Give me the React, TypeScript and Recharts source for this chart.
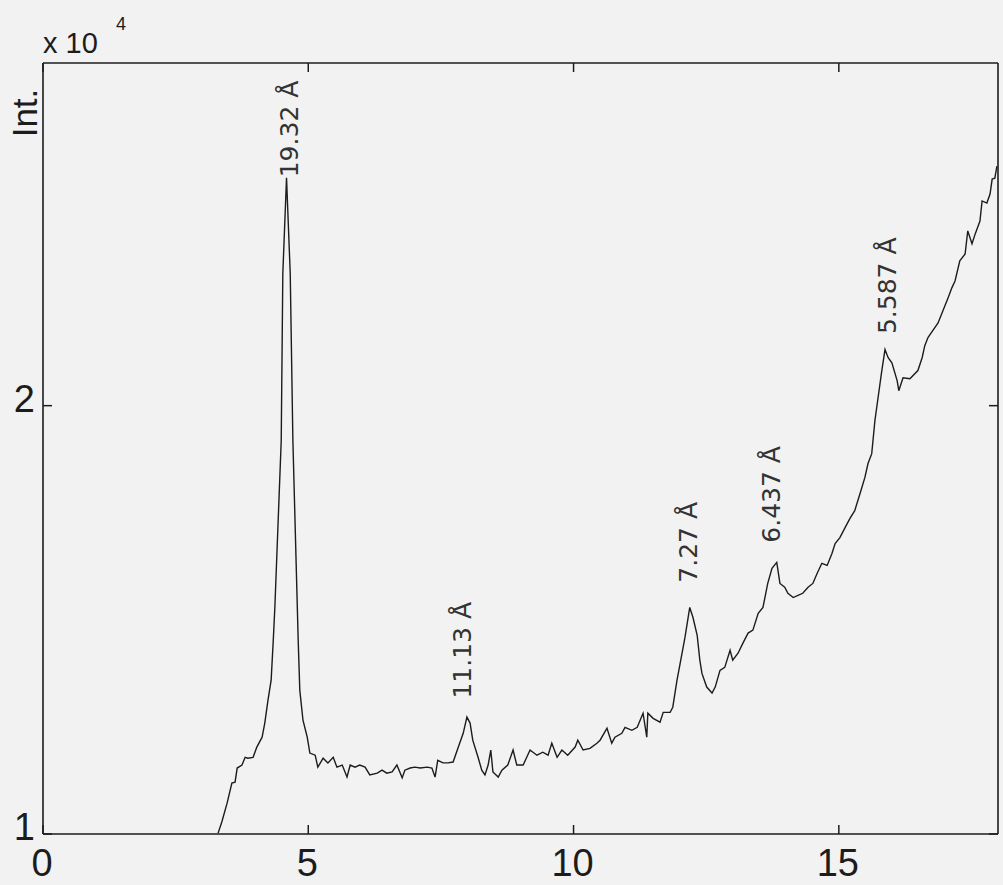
import { LineChart, Line, XAxis, YAxis, ReferenceDot } from 'recharts';

// diffraction scan, values (x: 2-theta, y: counts x 10^4)
const twoTheta = [
  3.30, 3.37, 3.47, 3.56, 3.62, 3.66, 3.75, 3.81, 3.86, 3.96, 4.03, 4.13, 4.18, 4.24, 4.30, 4.34, 4.37, 4.49, 4.52, 4.59,
  4.66, 4.71, 4.81, 4.84, 4.90, 4.98, 5.03, 5.13, 5.18, 5.28, 5.37, 5.47, 5.54, 5.64, 5.73, 5.79, 5.88, 5.97, 6.07, 6.16,
  6.30, 6.39, 6.48, 6.58, 6.67, 6.77, 6.82, 6.92, 7.01, 7.11, 7.24, 7.33, 7.39, 7.44, 7.54, 7.63, 7.73, 7.82, 7.92, 7.99,
  8.05, 8.10, 8.20, 8.27, 8.33, 8.39, 8.44, 8.48, 8.58, 8.65, 8.76, 8.86, 8.93, 9.05, 9.18, 9.31, 9.42, 9.52, 9.59, 9.69,
  9.78, 9.89, 10.03, 10.08, 10.18, 10.31, 10.44, 10.50, 10.63, 10.72, 10.78, 10.91, 10.97, 11.10, 11.20, 11.31, 11.38, 11.40, 11.50, 11.63,
  11.69, 11.82, 11.87, 11.95, 12.01, 12.10, 12.19, 12.25, 12.33, 12.38, 12.42, 12.51, 12.61, 12.67, 12.76, 12.85, 12.95, 13.00, 13.10, 13.19,
  13.29, 13.38, 13.48, 13.57, 13.66, 13.74, 13.83, 13.89, 13.98, 14.04, 14.14, 14.23, 14.32, 14.42, 14.51, 14.59, 14.68, 14.78, 14.87, 14.93,
  15.02, 15.12, 15.21, 15.30, 15.40, 15.49, 15.55, 15.62, 15.68, 15.74, 15.81, 15.87, 15.93, 16.00, 16.10, 16.13, 16.21, 16.34, 16.49, 16.57,
  16.62, 16.68, 16.77, 16.87, 16.96, 17.06, 17.13, 17.19, 17.28, 17.38, 17.43, 17.51, 17.57, 17.66, 17.70, 17.79, 17.85, 17.89, 17.94, 17.98,
];

const intensity = [
  1.002, 1.028, 1.072, 1.119, 1.121, 1.154, 1.161, 1.179, 1.177, 1.179, 1.203, 1.226, 1.259, 1.312, 1.359, 1.452, 1.529, 1.918, 2.308, 2.532,
  2.308, 1.918, 1.452, 1.336, 1.266, 1.226, 1.189, 1.184, 1.156, 1.177, 1.166, 1.179, 1.156, 1.161, 1.133, 1.161, 1.156, 1.161, 1.156, 1.138,
  1.142, 1.149, 1.142, 1.145, 1.161, 1.131, 1.149, 1.154, 1.156, 1.154, 1.156, 1.154, 1.133, 1.172, 1.166, 1.166, 1.168, 1.200, 1.235, 1.273,
  1.259, 1.219, 1.179, 1.149, 1.138, 1.161, 1.196, 1.145, 1.133, 1.149, 1.161, 1.196, 1.161, 1.161, 1.196, 1.184, 1.191, 1.184, 1.212, 1.179,
  1.196, 1.184, 1.203, 1.219, 1.196, 1.200, 1.212, 1.219, 1.247, 1.212, 1.226, 1.235, 1.249, 1.242, 1.249, 1.282, 1.226, 1.282, 1.270, 1.261,
  1.284, 1.284, 1.296, 1.359, 1.399, 1.459, 1.529, 1.506, 1.464, 1.406, 1.375, 1.343, 1.329, 1.343, 1.382, 1.389, 1.429, 1.406, 1.422, 1.445,
  1.469, 1.476, 1.515, 1.529, 1.585, 1.620, 1.634, 1.585, 1.576, 1.562, 1.552, 1.557, 1.562, 1.576, 1.585, 1.608, 1.632, 1.627, 1.655, 1.678,
  1.692, 1.716, 1.737, 1.755, 1.795, 1.832, 1.865, 1.888, 1.965, 2.019, 2.082, 2.131, 2.112, 2.100, 2.058, 2.035, 2.065, 2.063, 2.082, 2.112,
  2.140, 2.159, 2.175, 2.193, 2.221, 2.252, 2.275, 2.291, 2.338, 2.354, 2.408, 2.378, 2.401, 2.431, 2.478, 2.473, 2.494, 2.529, 2.531, 2.559,
];

const xTicks = [0, 5, 10, 15];
const yTicks = [1, 2];

// hand-written d-spacing notes next to the peaks
const peakLabels = ['19.32 Å', '11.13 Å', '7.27 Å', '6.437 Å', '5.587 Å'];
const peakLabelX = [4.64, 7.9, 12.16, 13.74, 15.91];
const peakLabelY = [2.646, 1.429, 1.681, 1.793, 2.28];

const data = twoTheta.map((x, i) => ({ x, y: intensity[i] }));

const ink = '#1c1c1c';
const font = '"Liberation Sans", Arial, Helvetica, sans-serif';
const TICK = 9;

// ticks point into the plot box, matlab style
const BottomTick = (props: any) => {
  const { x, y, payload } = props;
  return (
    <g>
      <line x1={x} x2={x} y1={y} y2={y - TICK} stroke={ink} strokeWidth={1.5} />
      <text x={x - 1} y={y + 42} textAnchor="middle" fontSize={38} fontFamily={font} fill={ink}>
        {payload.value}
      </text>
    </g>
  );
};

const TopTick = (props: any) => {
  const { x, y } = props;
  return <line x1={x} x2={x} y1={y} y2={y + TICK} stroke={ink} strokeWidth={1.5} />;
};

const LeftTick = (props: any) => {
  const { x, y, payload } = props;
  return (
    <g>
      <line x1={x} x2={x + TICK} y1={y} y2={y} stroke={ink} strokeWidth={1.5} />
      <text x={x - 8} y={y + 6} textAnchor="end" fontSize={38} fontFamily={font} fill={ink}>
        {payload.value}
      </text>
    </g>
  );
};

const RightTick = (props: any) => {
  const { x, y } = props;
  return <line x1={x} x2={x - TICK} y1={y} y2={y} stroke={ink} strokeWidth={1.5} />;
};

const PeakNote = (text: string) => (props: any) => {
  const { cx, cy } = props;
  return (
    <text
      x={cx}
      y={cy}
      transform={`rotate(-90, ${cx}, ${cy})`}
      textAnchor="middle"
      dominantBaseline="central"
      fontSize={25}
      fontFamily='"DejaVu Sans", sans-serif'
      fill="#333"
    >
      {text}
    </text>
  );
};

export default function App() {
  const axisLine = { stroke: ink, strokeWidth: 1.6 };
  return (
    <div style={{ position: 'absolute', left: 0, top: 0, width: 1003, height: 885, background: '#f2f2f2' }}>
      <LineChart width={1003} height={885} data={data} margin={{ top: 62, right: 4, bottom: 0, left: 0 }}>
        <XAxis
          dataKey="x"
          type="number"
          domain={[0, 18]}
          ticks={xTicks}
          height={51}
          tickSize={0}
          tickMargin={0}
          tick={BottomTick}
          tickLine={false}
          axisLine={axisLine}
          allowDataOverflow
        />
        <XAxis
          xAxisId="top"
          dataKey="x"
          orientation="top"
          type="number"
          domain={[0, 18]}
          ticks={xTicks}
          height={1}
          tickSize={0}
          tickMargin={0}
          tick={TopTick}
          tickLine={false}
          axisLine={axisLine}
          allowDataOverflow
        />
        <YAxis
          type="number"
          domain={[1, 2.8]}
          ticks={yTicks}
          width={43}
          tickSize={0}
          tickMargin={0}
          tick={LeftTick}
          tickLine={false}
          axisLine={axisLine}
          allowDataOverflow
        />
        <YAxis
          yAxisId="right"
          orientation="right"
          type="number"
          domain={[1, 2.8]}
          ticks={yTicks}
          width={1}
          tickSize={0}
          tickMargin={0}
          tick={RightTick}
          tickLine={false}
          axisLine={axisLine}
          allowDataOverflow
        />
        {/* invisible twin so the top/right frame axes get drawn */}
        <Line
          xAxisId="top"
          yAxisId="right"
          type="linear"
          dataKey="y"
          stroke="none"
          dot={false}
          isAnimationActive={false}
        />
        <Line
          type="linear"
          dataKey="y"
          stroke={ink}
          strokeWidth={1.4}
          dot={false}
          isAnimationActive={false}
        />
        {peakLabels.map((t, i) => (
          <ReferenceDot key={t} x={peakLabelX[i]} y={peakLabelY[i]} r={0} shape={PeakNote(t)} />
        ))}
      </LineChart>
      <svg width={1003} height={885} style={{ position: 'absolute', left: 0, top: 0, pointerEvents: 'none' }}>
        <text x={43} y={53} fontSize={29} fontFamily={font} fill={ink}>x 10</text>
        <text x={116} y={30} fontSize={18} fontFamily={font} fill={ink}>4</text>
        <text
          x={37}
          y={113}
          transform="rotate(-90, 37, 113)"
          textAnchor="middle"
          fontSize={35}
          fontFamily={font}
          fill={ink}
        >
          Int.
        </text>
      </svg>
    </div>
  );
}
